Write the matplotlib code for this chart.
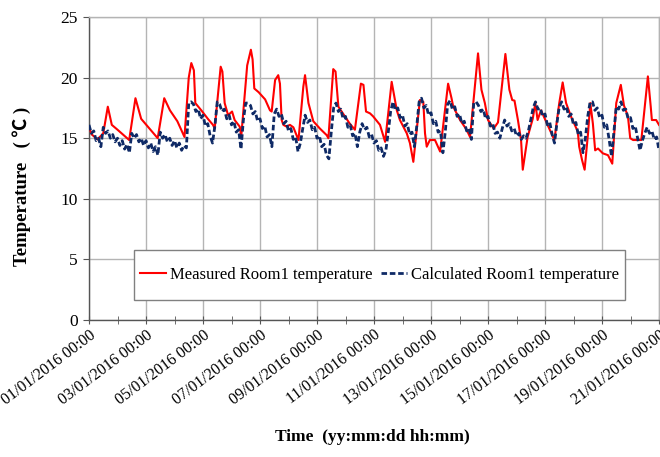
import numpy as np
import matplotlib
matplotlib.use("Agg")
import matplotlib.pyplot as plt
from matplotlib.ticker import MultipleLocator
from matplotlib.patches import Rectangle

# ---------------- data ----------------
tick_labels = ["01/01/2016 00:00", "03/01/2016 00:00", "05/01/2016 00:00",
               "07/01/2016 00:00", "09/01/2016 00:00", "11/01/2016 00:00",
               "13/01/2016 00:00", "15/01/2016 00:00", "17/01/2016 00:00",
               "19/01/2016 00:00", "21/01/2016 00:00"]
tick_days = [0, 2, 4, 6, 8, 10, 12, 14, 16, 18, 20]

# Measured Room1 temperature (day since 01/01 00:00, degC)
red_day = [0.0, 0.1, 0.3, 0.5, 0.66, 0.8, 1.0, 1.41, 1.63, 1.83,
           2.41, 2.64, 2.84, 3.1, 3.35, 3.5, 3.59, 3.68, 3.73, 3.94,
           4.17, 4.35, 4.41, 4.62, 4.68, 4.76, 4.88, 5.02, 5.11, 5.29,
           5.34, 5.55, 5.68, 5.74, 5.8, 5.95, 6.18, 6.35, 6.41, 6.53,
           6.64, 6.70, 6.76, 6.82, 6.94, 7.05, 7.17, 7.35, 7.52, 7.58,
           7.7, 7.87, 8.1, 8.34, 8.4, 8.57, 8.65, 8.75, 8.98, 9.15,
           9.33, 9.54, 9.63, 9.72, 9.86, 9.97, 10.21, 10.39, 10.62, 10.8,
           10.91, 11.15, 11.26, 11.38, 11.61, 11.73, 11.79, 11.85, 11.96, 12.14,
           12.32, 12.6, 12.72, 12.78, 13.02, 13.25, 13.37, 13.65, 13.77, 13.89,
           14.0, 14.2, 14.35, 14.61, 14.75, 14.85, 14.93, 15.05, 15.16, 15.22,
           15.39, 15.57, 15.66, 15.74, 15.86, 16.33, 16.5, 16.62, 16.74, 16.91,
           17.15, 17.2, 17.3, 17.39, 17.51, 17.59, 17.68, 17.76, 17.86, 18.03,
           18.21, 18.36, 18.5, 18.66, 18.77, 18.91, 18.99, 19.09, 19.38, 19.5,
           19.61, 19.71, 19.75, 19.9, 20.0]
red_temp = [15.9, 15.3, 14.9, 15.4, 17.6, 16.1, 15.7, 14.85, 18.3, 16.6,
            15.0, 18.3, 17.3, 16.4, 15.1, 20.0, 21.2, 20.6, 17.9, 17.3,
            16.6, 16.1, 15.8, 20.9, 20.5, 17.9, 16.9, 17.2, 16.5, 15.95,
            15.1, 21.0, 22.3, 21.5, 19.1, 18.8, 18.2, 17.3, 17.2, 19.8,
            20.2, 19.5, 16.5, 16.1, 15.95, 16.1, 15.9, 14.85, 19.25, 20.2,
            17.9, 16.4, 15.8, 15.25, 15.0, 20.7, 20.5, 17.6, 16.8, 16.2,
            15.7, 19.5, 19.4, 17.2, 17.05, 16.8, 16.1, 14.7, 19.65, 17.3,
            16.5, 15.4, 14.6, 13.05, 18.15, 18.0, 15.4, 14.3, 14.85, 14.85,
            13.9, 19.5, 18.3, 17.6, 16.5, 15.7, 15.1, 22.0, 19.0, 17.9,
            16.5, 15.8, 16.3, 21.95, 19.0, 18.15, 18.1, 16.5, 14.85, 12.4,
            15.1, 16.6, 17.9, 16.5, 17.3, 14.85, 17.9, 19.6, 17.9, 16.8,
            15.55, 14.3, 13.2, 12.4, 15.4, 17.9, 16.2, 14.0, 14.15, 13.75,
            13.6, 12.9, 17.9, 19.4, 17.7, 16.8, 15.0, 14.85, 14.85, 17.6,
            20.1, 17.6, 16.5, 16.5, 16.1]

# Calculated Room1 temperature, one value every 2 hours (12 per day)
calc_temp = [
    16.1, 15.4, 15.6, 14.8, 15.0, 14.3, 15.9, 15.4, 15.6, 15.0, 15.3, 14.7,
    15.0, 14.4, 14.8, 14.1, 14.5, 13.8, 15.4, 15.0, 15.3, 14.7, 15.0, 14.4,
    14.8, 14.2, 14.6, 13.9, 14.3, 13.6, 15.5, 15.0, 15.3, 14.7, 15.0, 14.4,
    14.8, 14.2, 14.6, 14.0, 14.4, 14.2, 17.9, 18.0, 17.8, 17.2, 17.4, 16.6,
    16.9, 16.0, 16.2, 15.2, 14.6, 16.0, 18.0, 17.8, 17.2, 17.4, 16.6, 16.9,
    16.1, 16.4, 15.5, 15.7, 14.1, 16.5, 17.9, 17.9, 17.7, 17.0, 17.2, 16.4,
    16.6, 15.8, 16.0, 15.1, 15.3, 14.3, 17.0, 17.4, 16.8, 17.0, 16.2, 16.4,
    15.6, 15.8, 14.9, 15.1, 13.9, 14.6, 15.8, 16.9, 16.3, 16.5, 15.7, 15.9,
    15.0, 15.2, 14.3, 14.5, 13.6, 13.3, 15.5, 17.5, 17.9, 17.2, 17.4, 16.6,
    16.8, 15.9, 16.1, 15.2, 15.4, 14.3, 15.5, 16.2, 15.7, 15.9, 15.1, 15.3,
    14.6, 14.8, 14.0, 14.2, 13.5, 14.0, 15.5, 17.2, 18.0, 17.3, 17.5, 16.7,
    16.9, 16.0, 16.2, 15.3, 15.5, 14.3, 16.0, 18.0, 18.3, 17.5, 17.7, 16.9,
    17.1, 16.2, 16.4, 15.5, 15.6, 13.8, 15.5, 17.8, 18.1, 17.4, 17.6, 16.8,
    17.0, 16.2, 16.4, 15.6, 15.8, 14.9, 17.9, 18.0, 17.7, 17.2, 17.4, 16.6,
    16.8, 16.0, 16.2, 15.4, 15.5, 15.0, 15.8, 16.5, 16.0, 16.2, 15.6, 15.8,
    15.2, 15.4, 14.9, 15.2, 15.0, 15.6, 16.5, 17.5, 18.0, 17.4, 17.5, 16.8,
    17.0, 16.1, 16.3, 15.3, 14.6, 16.2, 17.6, 18.0, 17.4, 17.6, 16.8, 17.0,
    16.1, 16.3, 15.3, 15.5, 13.8, 15.0, 16.8, 18.0, 18.0, 17.3, 17.5, 16.7,
    16.9, 15.9, 16.1, 14.9, 13.5, 15.5, 17.6, 17.4, 18.0, 17.3, 17.4, 16.6,
    16.7, 15.8, 16.0, 15.0, 14.0, 14.8, 15.4, 15.9, 15.4, 15.6, 14.9, 15.1,
    14.0]
calc_step_days = 2.0 / 24.0
calc_day = np.arange(len(calc_temp)) * calc_step_days

# ---------------- plot ----------------
serif = ["Liberation Serif", "DejaVu Serif"]
plt.rcParams["font.family"] = serif

fig = plt.figure(figsize=(6.6, 4.57), dpi=100)
ax = fig.add_axes([89 / 660, 1 - 320 / 457, 570 / 660, 303 / 457])

ax.plot(red_day, red_temp, color="#ff0000", lw=1.5,
        label="Measured Room1 temperature", zorder=3)
ax.plot(calc_day, calc_temp, color="#0f2a66", lw=2.0, ls=(0, (2.0, 1.0)),
        label="Calculated Room1 temperature", zorder=4)

ax.set_xlim(0, 20)
ax.set_ylim(0, 25)
ax.set_xticks(tick_days)
ax.set_xticklabels(tick_labels, rotation=37, ha="right", rotation_mode="anchor",
                   fontsize=11.5)
ax.xaxis.set_minor_locator(MultipleLocator(1))
ax.yaxis.set_major_locator(MultipleLocator(5))
ax.tick_params(axis="y", labelsize=12.5, direction="out", length=4,
               color="#555555", pad=4)
ax.tick_params(axis="x", which="both", direction="inout", length=6,
               color="#555555", pad=2)

ax.grid(True, which="major", color="#b4b4b4", lw=1.0)
ax.set_axisbelow(True)
for s in ["top", "right"]:
    ax.spines[s].set_color("#b4b4b4")
    ax.spines[s].set_linewidth(1.0)
for s in ["left", "bottom"]:
    ax.spines[s].set_color("#555555")
    ax.spines[s].set_linewidth(1.0)

# legend box (frame drawn separately to match its padding)
frame = Rectangle((0.079, 0.066), 0.861, 0.165, transform=ax.transAxes,
                  facecolor="white", edgecolor="#808080", lw=1.0, zorder=5)
ax.add_patch(frame)
leg = ax.legend(loc="center", bbox_to_anchor=(0.5097, 0.1485), ncol=2,
                fontsize=12, frameon=False,
                handlelength=1.55, handletextpad=0.25, columnspacing=0.5,
                borderpad=0.0, borderaxespad=0)
leg.set_zorder(6)

fig.text(372 / 660, 1 - 437 / 457, "Time  (yy:mm:dd hh:mm)", ha="center",
         va="center", fontsize=12.5, fontweight="bold", family=serif)
fig.text(22 / 660, 1 - 186 / 457, "Temperature   ( ℃ )", rotation=90,
         ha="center", va="center", fontsize=13.5, fontweight="bold",
         family=["Liberation Serif", "Noto Sans CJK SC", "DejaVu Sans"])

fig.savefig("out.png", dpi=100)
